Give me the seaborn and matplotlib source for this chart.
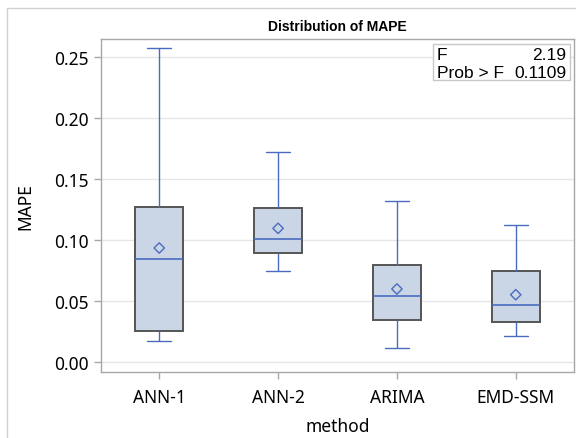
import matplotlib
matplotlib.use("Agg")
import matplotlib.pyplot as plt
import seaborn as sns
import pandas as pd
from matplotlib.patches import Rectangle

methods = ["ANN-1", "ANN-2", "ARIMA", "EMD-SSM"]
# five-number summaries: min, q1, median, q3, max
ann1 = [0.0177, 0.0254, 0.0847, 0.1275, 0.2574]
ann2 = [0.0746, 0.0893, 0.1008, 0.1267, 0.1721]
arima = [0.0120, 0.0344, 0.0543, 0.0795, 0.1322]
emdssm = [0.0216, 0.0333, 0.0472, 0.0748, 0.1123]
means = [0.0937, 0.1098, 0.0601, 0.0554]
yticks = [0.00, 0.05, 0.10, 0.15, 0.20, 0.25]
f_value = "2.19"
prob_f = "0.1109"

rows = []
for m, vals in zip(methods, [ann1, ann2, arima, emdssm]):
    for v in vals:
        rows.append({"method": m, "MAPE": v})
df = pd.DataFrame(rows)
mdf = pd.DataFrame({"method": methods, "MAPE": means})

sns.set_theme(style="white")
plt.rcParams["font.family"] = ["Noto Sans", "DejaVu Sans"]
plt.rcParams["text.color"] = "black"
plt.rcParams["axes.labelcolor"] = "black"

W, H = 576, 439
AX_L, AX_T, AX_R, AX_B = 101, 40, 574, 373.3
fig = plt.figure(figsize=(W / 100, H / 100), dpi=100)
ax = fig.add_axes([AX_L / W, 1 - AX_B / H, (AX_R - AX_L) / W, (AX_B - AX_T) / H])


def axx(px):
    return (px - AX_L) / (AX_R - AX_L)


def axy(py):
    return 1 - (py - AX_T) / (AX_B - AX_T)


blue = "#4A6CC0"
sns.boxplot(data=df, x="method", y="MAPE", order=methods, ax=ax, width=0.4,
            whis=10, color="#CAD5E5", saturation=1, linewidth=1.0,
            boxprops=dict(facecolor="#CAD5E5", edgecolor="#555555", linewidth=1.4),
            medianprops=dict(color=blue, linewidth=1.2),
            whiskerprops=dict(color=blue, linewidth=1.0),
            capprops=dict(color=blue, linewidth=1.0),
            showfliers=False)
sns.scatterplot(data=mdf, x="method", y="MAPE", ax=ax, marker="D", s=28,
                facecolor="none", edgecolor=blue, linewidth=1.0, zorder=5)

ax.set_xlim(-0.49, 3.49)
ax.set_ylim(-0.0082, 0.265)
ax.set_yticks(yticks)
ax.set_yticklabels([f"{t:.2f}" for t in yticks])
ax.yaxis.grid(True, color="#E6E6E6", linewidth=1.0)
ax.set_axisbelow(True)
for s in ax.spines.values():
    s.set_color("#A8A8A8")
    s.set_linewidth(1.0)
ax.tick_params(axis="both", which="both", length=5, width=1, color="#A8A8A8",
               labelsize=12.5, labelcolor="black", pad=4, direction="out",
               bottom=True, left=True)
ax.tick_params(axis="x", pad=6)
ax.set_xlabel("method", fontsize=12.5, labelpad=8, color="black")
ax.set_ylabel("MAPE", fontsize=12.5, labelpad=14, color="black")

fig.text(337.5 / W, 1 - 27 / H, "Distribution of MAPE", ha="center",
         va="center", fontsize=10, fontweight="bold", family="Liberation Sans",
         color="black")

# statistics inset
ax.add_patch(Rectangle((axx(432.7), axy(81)), axx(570) - axx(432.7),
                       axy(44.7) - axy(81), transform=ax.transAxes,
                       facecolor="white", edgecolor="#C8C8C8", linewidth=1.0,
                       zorder=6))
for px, py, s, ha in [(437, 60.5, "F", "left"), (566.5, 60.5, f_value, "right"),
                      (437, 78.5, "Prob > F", "left"), (566.5, 78.5, prob_f, "right")]:
    ax.text(axx(px), axy(py), s, transform=ax.transAxes, ha=ha, va="baseline",
            fontsize=12.5, family="Liberation Sans", color="black", zorder=7)

fig.patches.append(Rectangle((7.3 / W, -0.1), 2, 1 - 9.3 / H + 0.1,
                             transform=fig.transFigure, fill=False,
                             edgecolor="#D0D0D0", linewidth=1.0))

fig.savefig("out.png", dpi=100)
